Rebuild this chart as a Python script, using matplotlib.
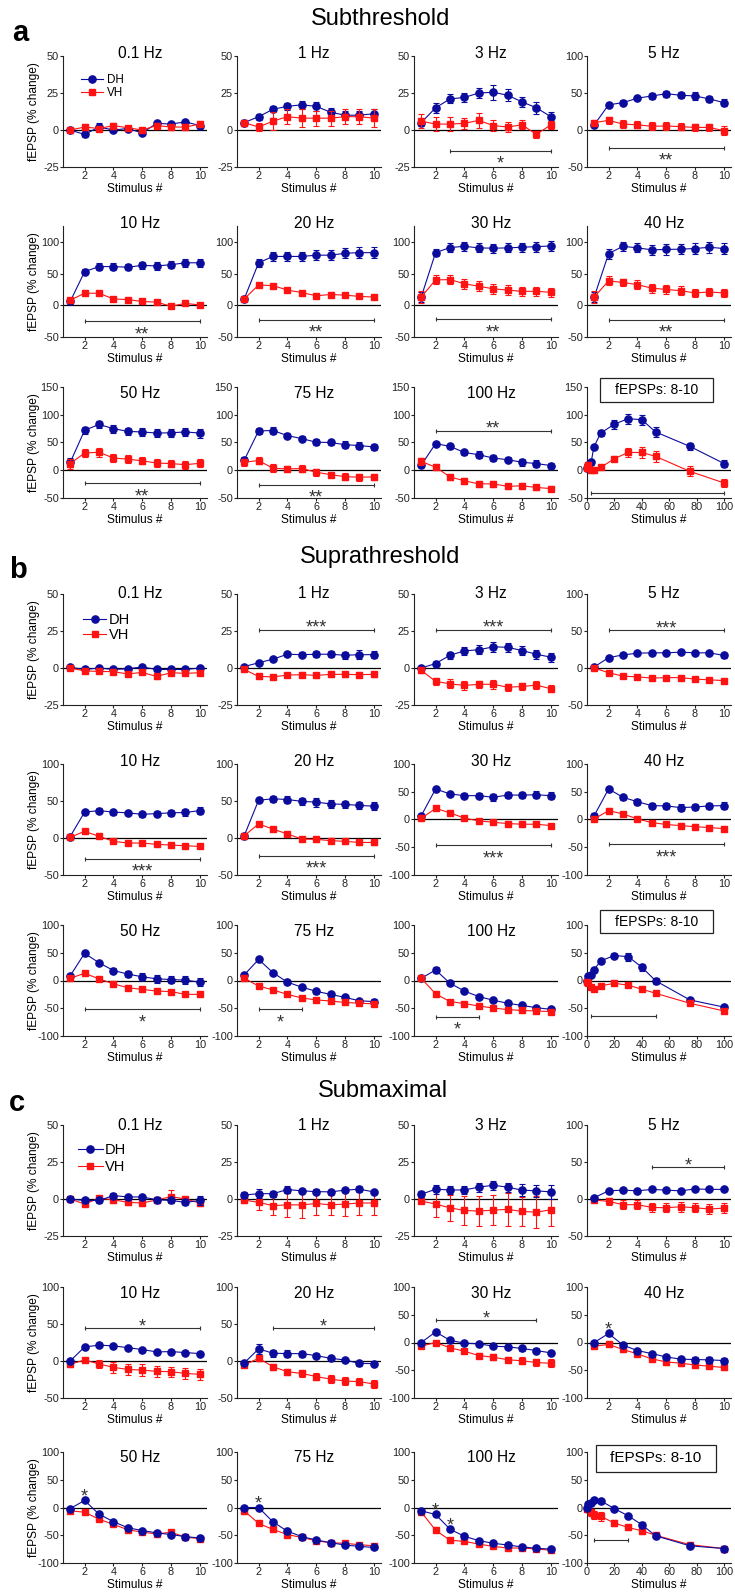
import matplotlib.pyplot as plt
from matplotlib.lines import Line2D
from matplotlib.patches import Rectangle

plt.rcParams['font.family'] = ['Liberation Sans', 'DejaVu Sans']
plt.rcParams['axes.unicode_minus'] = False

W, H = 735, 1593
BLUE = '#0c0c9c'
RED = '#ff1212'
GREY = '#333333'

stimulus = [1, 2, 3, 4, 5, 6, 7, 8, 9, 10]
frequency = [0.1, 1, 3, 5, 10, 20, 30, 40, 50, 75, 100]
panels = ['0.1 Hz', '1 Hz', '3 Hz', '5 Hz',
          '10 Hz', '20 Hz', '30 Hz', '40 Hz',
          '50 Hz', '75 Hz', '100 Hz', 'fEPSPs: 8-10']

# ---- a: subthreshold ----
sub_dh = {
    '0.1 Hz': [0, -3, 2, 0, 1, -2, 4.5, 4, 5.5, 3],
    '1 Hz': [5, 9, 14, 16, 17, 16, 12, 10, 10, 11],
    '3 Hz': [5, 15, 21, 22, 25, 25.5, 23.5, 19, 15, 9],
    '5 Hz': [7, 34, 37, 43, 46, 49, 47, 46, 42, 37],
    '10 Hz': [6, 53, 61, 61, 60, 63, 62, 64, 67, 67],
    '20 Hz': [10, 67, 77, 77, 77, 79, 79, 82, 83, 83],
    '30 Hz': [13, 83, 91, 93, 90.5, 90, 90.5, 91.5, 92.5, 93.5],
    '40 Hz': [13, 81.5, 93, 90.5, 87.5, 88, 88.5, 89.5, 91.5, 89.5],
    '50 Hz': [14, 72, 82.5, 75, 70, 69, 67, 67.5, 69, 67],
    '75 Hz': [18, 71, 71.5, 62.5, 57, 50.5, 50, 46, 44.5, 42],
    '100 Hz': [9, 48, 43, 32, 28, 22, 19, 14.5, 12, 8.5],
    'fEPSPs: 8-10': [4, 10, 14, 42, 67, 83, 93, 91, 69, 43, 12],
}
sub_dh_err = {
    '0.1 Hz': [1.5, 1.5, 3, 1.5, 1.5, 1.5, 1.5, 1.5, 1.5, 1.5],
    '1 Hz': [2, 2, 2, 2.5, 2.5, 3, 3, 2.5, 2.5, 3],
    '3 Hz': [2, 3.5, 3, 3, 3.5, 5, 4, 3.5, 4, 3],
    '5 Hz': [3, 2.5, 3, 3, 4, 4, 4, 5, 4.5, 5],
    '10 Hz': [4, 4, 5, 5, 5, 6, 6, 6, 6, 6],
    '20 Hz': [3, 6, 7, 7, 7, 8, 8, 8, 9, 9],
    '30 Hz': [8, 6, 7, 7, 7, 7, 7, 7, 8, 8],
    '40 Hz': [8, 8, 7, 7, 8, 8, 8, 9, 9, 9],
    '50 Hz': [8, 6, 7, 7, 7, 7, 7, 7, 8, 8],
    '75 Hz': [6, 6, 6, 4, 5, 5, 5, 6, 6, 6],
    '100 Hz': [4, 3, 4, 4, 6, 5, 5, 6, 6, 5],
    'fEPSPs: 8-10': [3, 3, 4, 4, 6, 8, 9, 9, 9, 6, 7],
}
sub_vh = {
    '0.1 Hz': [0, 2, 1, 3, 1.5, 0, 3, 2, 2, 4],
    '1 Hz': [5, 2, 6, 9, 8, 8, 8, 9, 9, 8],
    '3 Hz': [6, 4, 4, 4.5, 6.5, 3, 2, 3.5, -3, 3.5],
    '5 Hz': [10, 13, 8, 7, 5, 5.5, 4.5, 3.5, 3.5, -1],
    '10 Hz': [8, 19, 19, 10, 9, 6, 5, -1.5, 3, 0.5],
    '20 Hz': [10, 32, 31, 24, 20, 15, 17, 16, 14, 13],
    '30 Hz': [13, 40, 40.5, 34, 30, 26, 24, 22, 22, 20.5],
    '40 Hz': [13, 38.5, 36, 32.5, 27, 25, 23, 19.5, 21, 19.5],
    '50 Hz': [12, 31, 32.5, 22, 20, 17, 13, 12, 10, 12.5],
    '75 Hz': [14.5, 17.5, 3.5, 2.5, 3, -3.5, -8, -11.5, -12.5, -12],
    '100 Hz': [16, 5.5, -12, -19, -24.5, -24.5, -29, -28, -31, -33],
    'fEPSPs: 8-10': [4, 9, 1, 1, 5, 21, 32, 32, 25, -2, -23],
}
sub_vh_err = {
    '0.1 Hz': [1.5, 2, 2, 2, 1.5, 1.5, 2, 2, 2, 2],
    '1 Hz': [2, 3, 6, 5, 6, 5, 5, 5, 5, 6],
    '3 Hz': [4.5, 4.5, 5, 3.5, 5, 4, 3.5, 3, 2.5, 2.5],
    '5 Hz': [4, 5, 5, 4.5, 5.5, 5, 5, 5, 5, 6],
    '10 Hz': [3, 3, 3, 3, 3, 3, 3, 2.5, 2.5, 2.5],
    '20 Hz': [3, 3.5, 3, 3, 3, 3, 3, 3, 3, 3],
    '30 Hz': [9, 7, 7, 8, 8, 8, 8, 7, 7, 7],
    '40 Hz': [9, 7, 6, 7, 7, 7, 7, 6, 7, 6],
    '50 Hz': [9, 7, 8, 7, 7, 6, 7, 7, 7, 7],
    '75 Hz': [6, 6, 7, 6, 6, 6, 5, 6, 6, 6],
    '100 Hz': [6, 5, 6, 5, 5, 5, 5, 5, 5, 4],
    'fEPSPs: 8-10': [5, 5, 4, 4, 3, 4, 8, 10, 10, 9, 7],
}
sub_ylim = {
    '0.1 Hz': (-25, 50), '1 Hz': (-25, 50), '3 Hz': (-25, 50), '5 Hz': (-50, 100),
    '10 Hz': (-50, 125), '20 Hz': (-50, 125), '30 Hz': (-50, 125), '40 Hz': (-50, 125),
    '50 Hz': (-50, 150), '75 Hz': (-50, 150), '100 Hz': (-50, 150), 'fEPSPs: 8-10': (-50, 150),
}
sub_bars = [
    ('3 Hz', 3, 10, -14, '*', 'below'),
    ('5 Hz', 2, 10, -24, '**', 'below'),
    ('10 Hz', 2, 10, -25, '**', 'below'),
    ('20 Hz', 2, 10, -23, '**', 'below'),
    ('30 Hz', 2, 10, -22, '**', 'below'),
    ('40 Hz', 2, 10, -23, '**', 'below'),
    ('50 Hz', 2, 10, -23, '**', 'below'),
    ('75 Hz', 2, 10, -26, '**', 'below'),
    ('100 Hz', 2, 10, 71, '**', 'above'),
    ('fEPSPs: 8-10', 3, 100, -41, '', 'below'),
]

# ---- b: suprathreshold ----
supra_dh = {
    '0.1 Hz': [0.5, -1, 0, -1, -0.5, 0.7, -1, -1, -1, 0],
    '1 Hz': [1, 3.5, 6, 9.3, 9, 9.3, 9.3, 8.6, 9, 9],
    '3 Hz': [0, 3, 8.6, 11.6, 12.3, 14.3, 14, 11.8, 9.3, 7.3],
    '5 Hz': [1.4, 14, 17.7, 20, 20.5, 20.5, 21.4, 20.5, 20.5, 17],
    '10 Hz': [2, 35, 37, 35, 34, 32, 33, 34, 34.5, 37],
    '20 Hz': [3, 51, 53, 52, 49.5, 48.5, 46, 45.5, 44, 43],
    '30 Hz': [6.7, 55, 46, 43, 43, 40, 44, 44, 44.5, 43],
    '40 Hz': [7, 55, 40, 32, 25, 24.5, 21.5, 22.5, 24.5, 25],
    '50 Hz': [8.5, 49, 32, 18, 11.6, 6.7, 3, 1.8, 0.6, -3],
    '75 Hz': [10, 38, 14, -3, -12, -19.5, -25, -30.5, -36.5, -38],
    '100 Hz': [4, 19, -5, -19, -29, -35.5, -41, -45, -49, -52],
    'fEPSPs: 8-10': [0, 9, 10, 19, 35.5, 45, 43, 24, -0.5, -35, -48],
}
supra_dh_err = {
    '0.1 Hz': [1, 1, 1, 1, 1, 1, 1, 1, 1, 1],
    '1 Hz': [1, 1.2, 1.2, 1.5, 1.5, 2, 2, 2.5, 3, 2.5],
    '3 Hz': [1, 1.5, 2.5, 2.5, 3, 3.5, 3, 3, 3, 3],
    '5 Hz': [1, 2, 2, 2, 2, 2, 2.5, 2.5, 2.5, 3],
    '10 Hz': [2, 2.5, 3, 3.5, 3, 3, 3.5, 4, 4.5, 5],
    '20 Hz': [2, 3, 4, 5, 5, 6, 5, 5, 5, 5],
    '30 Hz': [4, 4, 4, 4, 5, 6, 6, 6, 6, 6],
    '40 Hz': [4, 4, 5, 5, 5, 5, 6, 6, 6, 6],
    '50 Hz': [4, 5, 4, 5, 6, 6, 7, 6, 7, 7],
    '75 Hz': [3, 5, 4, 4, 4, 4, 4, 4, 4, 4],
    '100 Hz': [4, 5, 4, 3, 3, 3, 3, 3, 3, 3],
    'fEPSPs: 8-10': [1, 2, 3, 3, 4, 5, 7, 6, 5, 4, 4],
}
supra_vh = {
    '0.1 Hz': [0, -2, -2.3, -2.5, -4, -3, -5.7, -3.2, -3.6, -3.2],
    '1 Hz': [-1, -5.7, -6, -4.8, -4.5, -5, -4.3, -4.3, -4.5, -4.3],
    '3 Hz': [-1.6, -9, -10.7, -11.8, -11, -11, -13, -12.5, -11.6, -14],
    '5 Hz': [0, -6.4, -11, -12, -13.6, -13, -13, -15, -16, -17],
    '10 Hz': [1, 9, 2.3, -4.5, -6.8, -6.8, -8.6, -9.5, -10.5, -11.4],
    '20 Hz': [3, 19, 12, 5.5, -1.4, -1.8, -3.6, -4.5, -6, -6],
    '30 Hz': [2, 20, 12, 2.4, -2.4, -5, -7.3, -8.5, -8.5, -11],
    '40 Hz': [1, 16, 10, 1, -5.5, -9, -11, -13, -14.5, -16.5],
    '50 Hz': [4, 13, 3, -6, -13, -16, -19, -20, -25, -25],
    '75 Hz': [4, -10, -17, -25, -31.5, -35, -37, -39.5, -41, -42],
    '100 Hz': [4, -24, -38, -41.5, -46, -49.5, -52.5, -54, -55, -56],
    'fEPSPs: 8-10': [-3, -4.4, -11, -15.7, -9.6, -5, -8.4, -15.7, -23, -41, -55],
}
supra_vh_err = {
    '0.1 Hz': [1, 1, 1.2, 1.2, 1.2, 1.2, 1.5, 1.2, 1.2, 1.2],
    '1 Hz': [1.2, 1.5, 1.5, 1.5, 1.5, 1.5, 1.5, 1.5, 1.5, 1.5],
    '3 Hz': [1.5, 2.5, 3, 3, 2.5, 3, 2.5, 2.5, 2.5, 2.5],
    '5 Hz': [1, 2, 2, 2, 2, 2, 2, 2, 2, 2],
    '10 Hz': [2, 3, 2.5, 2.5, 2.5, 2.5, 2.5, 2.5, 2.5, 2.5],
    '20 Hz': [2, 3, 3, 3, 3, 3, 3, 3, 3, 3],
    '30 Hz': [3, 3, 3, 3, 3, 3, 3, 3, 3, 3],
    '40 Hz': [3, 4, 4, 3, 3, 4, 4, 4, 4, 4],
    '50 Hz': [3, 3, 3, 3, 3, 3, 3, 3, 3, 3],
    '75 Hz': [3, 3, 3, 3, 3, 3, 3, 3, 3, 3],
    '100 Hz': [3, 3, 3, 3, 3, 3, 3, 3, 3, 3],
    'fEPSPs: 8-10': [2, 2, 3, 3, 3, 3, 3, 3, 4, 4, 4],
}
supra_ylim = {
    '0.1 Hz': (-25, 50), '1 Hz': (-25, 50), '3 Hz': (-25, 50), '5 Hz': (-50, 100),
    '10 Hz': (-50, 100), '20 Hz': (-50, 100), '30 Hz': (-100, 100), '40 Hz': (-100, 100),
    '50 Hz': (-100, 100), '75 Hz': (-100, 100), '100 Hz': (-100, 100), 'fEPSPs: 8-10': (-100, 100),
}
supra_bars = [
    ('1 Hz', 2, 10, 26, '***', 'above'),
    ('3 Hz', 2, 10, 26, '***', 'above'),
    ('5 Hz', 2, 10, 51, '***', 'above'),
    ('10 Hz', 2, 10, -28, '***', 'below'),
    ('20 Hz', 2, 10, -24, '***', 'below'),
    ('30 Hz', 2, 10, -46, '***', 'below'),
    ('40 Hz', 2, 10, -45, '***', 'below'),
    ('50 Hz', 2, 10, -52, '*', 'below'),
    ('75 Hz', 2, 5, -52, '*', 'below'),
    ('100 Hz', 2, 5, -65, '*', 'below'),
    ('fEPSPs: 8-10', 3, 50, -64, '', 'below'),
]

# ---- c: submaximal ----
submax_dh = {
    '0.1 Hz': [0, -1, -1, 2.3, 1.4, 1.4, -0.5, -1, -2.3, -1],
    '1 Hz': [2.7, 3.6, 3.6, 6.4, 5.5, 5, 4.8, 6, 6.6, 4.8],
    '3 Hz': [3.2, 6.6, 6.1, 6.1, 8, 9.3, 8, 6, 5.5, 4.8],
    '5 Hz': [1.8, 11, 12, 11, 13, 12, 11, 13.6, 13, 13],
    '10 Hz': [0, 19, 21.4, 20.5, 18, 15.5, 12.3, 12.7, 11.4, 10],
    '20 Hz': [-2.7, 16.4, 10.5, 10, 10, 7.3, 3.6, 1.4, -3.2, -3.6],
    '30 Hz': [0, 19, 4, -1.2, -2.4, -6.6, -7.8, -10.8, -14.5, -18.7],
    '40 Hz': [0, 16.3, -4.8, -14.5, -20, -26, -30, -30.7, -31.3, -32.5],
    '50 Hz': [-2, 12.8, -12, -25.5, -36.5, -41.5, -45.7, -48.8, -52.4, -55],
    '75 Hz': [0, 0, -26, -42.7, -52.4, -58.5, -63.4, -67.7, -70, -72],
    '100 Hz': [-6, -12.6, -39, -52, -59.6, -64.5, -67.5, -71, -73.5, -75],
    'fEPSPs: 8-10': [0, 6, 8, 14, 12, -2, -15, -31, -51, -69, -74],
}
submax_dh_err = {
    '0.1 Hz': [1.5, 1.5, 1.5, 1.5, 1.5, 1.5, 1.5, 1.5, 2, 3],
    '1 Hz': [2, 3, 2, 2.5, 1.5, 1.5, 1.5, 1.5, 2, 1.5],
    '3 Hz': [2, 3, 3, 3, 3, 3, 3, 4, 4, 4.5],
    '5 Hz': [1, 2, 2, 2, 2, 2, 2, 2, 2, 2.5],
    '10 Hz': [1.5, 2, 3, 3, 2, 2, 2, 2, 2, 2],
    '20 Hz': [2, 7, 5, 5, 4, 3, 2, 2, 3, 3],
    '30 Hz': [2, 3, 3, 3, 3, 3, 3, 4, 4, 4],
    '40 Hz': [2, 4, 3, 3, 3, 3, 4, 5, 5, 5],
    '50 Hz': [2, 3, 3, 3, 3, 3, 3, 3, 3, 3],
    '75 Hz': [2, 2, 3, 3, 3, 3, 3, 3, 3, 3],
    '100 Hz': [2, 3, 3, 3, 3, 3, 3, 3, 3, 3],
    'fEPSPs: 8-10': [2, 3, 3, 3, 3, 3, 4, 4, 3, 3, 3],
}
submax_vh = {
    '0.1 Hz': [0, -3.4, 0.5, -0.5, -2.3, -2.7, -0.7, 1.6, 0, -2.7],
    '1 Hz': [-0.7, -2.3, -4.5, -3.9, -4, -3, -4, -3.4, -2.7, -2.7],
    '3 Hz': [-1.4, -3.4, -6, -7.7, -8.2, -7.5, -7, -8.4, -8.9, -7.3],
    '5 Hz': [-1.4, -3.2, -7.7, -7.7, -11.4, -11.8, -10.5, -11.8, -13.6, -12.3],
    '10 Hz': [-4.5, 1.4, -4, -8.6, -11.4, -12.3, -14, -14.5, -16.8, -18],
    '20 Hz': [-5.5, 3.6, -7.7, -14.5, -16.8, -21, -24.5, -27, -28, -31],
    '30 Hz': [-6.6, 0, -9.6, -15.7, -23.5, -26.5, -31, -33, -36, -37.5],
    '40 Hz': [-6.6, -3.6, -12.6, -20.5, -29.5, -35, -37.3, -40.4, -42.8, -45],
    '50 Hz': [-6, -8.5, -21, -30.5, -40, -44.5, -47.6, -44.5, -53.6, -56],
    '75 Hz': [-6, -28.7, -39.6, -48.8, -54, -60, -63.4, -64.6, -67, -69],
    '100 Hz': [-8, -41, -59, -61, -66, -70, -73, -73, -74.7, -77],
    'fEPSPs: 8-10': [-2, -3, -9, -13, -16, -28, -36, -42, -50, -67, -74],
}
submax_vh_err = {
    '0.1 Hz': [1.5, 1.5, 1.5, 2, 2, 2, 1.5, 4.5, 1.5, 2],
    '1 Hz': [2, 5, 6, 8, 9, 8, 7, 8, 8, 8],
    '3 Hz': [1.5, 9, 9, 10, 10, 10, 11, 10, 11, 11],
    '5 Hz': [2, 5, 6, 6, 6, 6, 7, 6, 7, 7],
    '10 Hz': [3, 3, 6, 7, 7, 8, 7, 7, 7, 7],
    '20 Hz': [2, 3, 4, 4, 5, 5, 5, 5, 5, 5],
    '30 Hz': [3, 3, 4, 4, 4, 5, 5, 6, 6, 7],
    '40 Hz': [3, 3, 4, 4, 4, 5, 5, 5, 5, 5],
    '50 Hz': [3, 3, 3, 3, 3, 3, 3, 4, 3, 3],
    '75 Hz': [3, 3, 3, 3, 3, 3, 3, 3, 3, 3],
    '100 Hz': [2, 3, 3, 3, 3, 3, 3, 3, 3, 3],
    'fEPSPs: 8-10': [3, 5, 6, 7, 8, 5, 5, 5, 3, 3, 3],
}
submax_ylim = {
    '0.1 Hz': (-25, 50), '1 Hz': (-25, 50), '3 Hz': (-25, 50), '5 Hz': (-50, 100),
    '10 Hz': (-50, 100), '20 Hz': (-50, 100), '30 Hz': (-100, 100), '40 Hz': (-100, 100),
    '50 Hz': (-100, 100), '75 Hz': (-100, 100), '100 Hz': (-100, 100), 'fEPSPs: 8-10': (-100, 100),
}
submax_bars = [
    ('5 Hz', 5, 10, 43, '*', 'above'),
    ('10 Hz', 2, 10, 44, '*', 'above'),
    ('20 Hz', 3, 10, 44, '*', 'above'),
    ('30 Hz', 2, 9, 40, '*', 'above'),
    ('fEPSPs: 8-10', 5, 30, -59, '', 'below'),
]
# single-point stars over the DH mean (panel, stimulus #)
submax_point_stars = [('40 Hz', 2), ('50 Hz', 2), ('75 Hz', 2), ('100 Hz', 2), ('100 Hz', 3)]

# ---- layout (figure pixels) ----
col_left = [63, 237, 414, 587]
col_w = 144
row_h = 111

sections = [
    dict(letter='a', heading='Subthreshold', letter_xy=(20, 33), heading_xy=(381, 19),
         tops=(56, 226, 387), title_y=(54, 223, 394),
         dh=sub_dh, dh_err=sub_dh_err, vh=sub_vh, vh_err=sub_vh_err, ylim=sub_ylim,
         bars=sub_bars, stars=[], dh_on_top=False,
         legend=dict(x=81, y=74, size=8.4, spacing=0.12, hl=1.9, pad=0.35),
         box=dict(x=600, y=378, w=113, h=24, size=10)),
    dict(letter='b', heading='Suprathreshold', letter_xy=(18, 570), heading_xy=(380, 557),
         tops=(594, 764, 925), title_y=(593, 762, 932),
         dh=supra_dh, dh_err=supra_dh_err, vh=supra_vh, vh_err=supra_vh_err, ylim=supra_ylim,
         bars=supra_bars, stars=[], dh_on_top=False,
         legend=dict(x=83, y=613, size=10.5, spacing=0.08, hl=1.6, pad=0.15),
         box=dict(x=600, y=910, w=113, h=23, size=10)),
    dict(letter='c', heading='Submaximal', letter_xy=(17, 1103), heading_xy=(383, 1091),
         tops=(1125, 1287, 1452), title_y=(1125, 1293, 1458),
         dh=submax_dh, dh_err=submax_dh_err, vh=submax_vh, vh_err=submax_vh_err, ylim=submax_ylim,
         bars=submax_bars, stars=submax_point_stars, dh_on_top=True,
         legend=dict(x=78, y=1143, size=10.5, spacing=0.22, hl=1.7, pad=0.15),
         box=dict(x=596, y=1445, w=120, h=27, size=11)),
]

fig = plt.figure(figsize=(W / 100, H / 100), dpi=100)


def fig_axes(left, top, width, height):
    return fig.add_axes((left / W, 1 - (top + height) / H, width / W, height / H))


def fig_text(x, y, s, **kw):
    return fig.text(x / W, 1 - y / H, s, ha='center', va='center', **kw)


def y_ticks(lo, hi):
    if (lo, hi) == (-25, 50):
        return [-25, 0, 25, 50]
    return [v for v in range(lo, hi + 1, 50)]


def sig_bar(ax, x0, x1, y, text, side):
    ax.plot([x0, x1], [y, y], color=GREY, lw=0.8, clip_on=False)
    ax.plot([x0, x1], [y, y], ls='none', marker='|', ms=3, mew=0.8, color=GREY, clip_on=False)
    if text:
        dy = -18 if side == 'below' else -3
        ax.annotate(text, ((x0 + x1) / 2, y), xytext=(0, dy), textcoords='offset pixels',
                    ha='center', va='baseline', fontsize=13, color=GREY)


for sec in sections:
    fig_text(*sec['letter_xy'], sec['letter'], fontsize=21, fontweight='bold')
    fig_text(*sec['heading_xy'], sec['heading'], fontsize=17)
    for i, name in enumerate(panels):
        r, c = divmod(i, 4)
        top = sec['tops'][r]
        ax = fig_axes(col_left[c], top, col_w, row_h)
        summary = name == 'fEPSPs: 8-10'
        x = frequency if summary else stimulus
        lo, hi = sec['ylim'][name]

        ax.axhline(0, color='black', lw=0.9, zorder=1)
        z_dh, z_vh = (4, 3) if sec['dh_on_top'] else (3, 4)
        ax.errorbar(x, sec['dh'][name], yerr=sec['dh_err'][name], color=BLUE, marker='o',
                    ms=5.2, lw=0.8, elinewidth=0.8, capsize=2.2, capthick=0.8,
                    zorder=z_dh, clip_on=False)
        ax.errorbar(x, sec['vh'][name], yerr=sec['vh_err'][name], color=RED, marker='s',
                    ms=4.4, lw=0.8, elinewidth=0.8, capsize=2.2, capthick=0.8,
                    zorder=z_vh, clip_on=False)

        ax.set_ylim(lo, hi)
        ax.set_yticks(y_ticks(lo, hi))
        if summary:
            ax.set_xlim(0, 105)
            ax.set_xticks([0, 20, 40, 60, 80, 100])
        else:
            ax.set_xlim(0.5, 10.5)
            ax.set_xticks([2, 4, 6, 8, 10])

        for side in ('top', 'right'):
            ax.spines[side].set_visible(False)
        for side in ('left', 'bottom'):
            ax.spines[side].set_linewidth(0.8)
            ax.spines[side].set_color('#222222')
        ax.tick_params(length=2, width=0.8, pad=1, labelsize=7.8, colors='#222222')
        ax.set_xlabel('Stimulus #', fontsize=8.6, labelpad=1.5)
        if c == 0:
            fig_text(34, top + row_h / 2, 'fEPSP (% change)', fontsize=8.6, rotation=90)

        if summary:
            b = sec['box']
            fig.add_artist(Rectangle((b['x'] / W, 1 - (b['y'] + b['h']) / H), b['w'] / W, b['h'] / H,
                                     transform=fig.transFigure, fill=False, lw=0.9,
                                     edgecolor='#222222'))
            fig_text(b['x'] + b['w'] / 2, b['y'] + b['h'] / 2, name, fontsize=b['size'])
        else:
            fig_text(col_left[c] + col_w / 2 + 5, sec['title_y'][r], name, fontsize=11.2)

        for pname, x0, x1, y, text, side in sec['bars']:
            if pname == name:
                sig_bar(ax, x0, x1, y, text, side)
        for pname, s in sec['stars']:
            if pname == name:
                ax.annotate('*', (s, sec['dh'][name][s - 1]), xytext=(0, -1),
                            textcoords='offset pixels', ha='center', va='baseline',
                            fontsize=13, color=GREY)

        if i == 0:
            lg = sec['legend']
            handles = [Line2D([], [], color=BLUE, marker='o', ms=5.2, lw=0.8),
                       Line2D([], [], color=RED, marker='s', ms=4.4, lw=0.8)]
            ax.legend(handles, ['DH', 'VH'], loc='upper left',
                      bbox_to_anchor=(lg['x'] / W, 1 - lg['y'] / H),
                      bbox_transform=fig.transFigure, frameon=False, borderpad=0,
                      borderaxespad=0, fontsize=lg['size'], labelspacing=lg['spacing'],
                      handlelength=lg['hl'], handletextpad=lg['pad'])

fig.savefig('out.png', dpi=100)
